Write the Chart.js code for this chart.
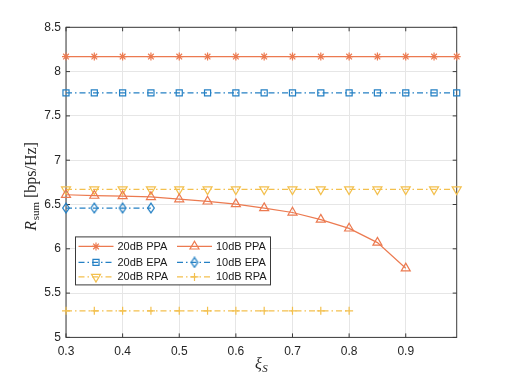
<!DOCTYPE html>
<html>
<head>
<meta charset="utf-8">
<script src="https://cdn.jsdelivr.net/npm/chart.js@4/dist/chart.umd.min.js"></script>
<style>
html,body{margin:0;padding:0;background:#fff;}
canvas{display:block;}
</style>
</head>
<body>
<canvas id="c" width="505" height="379"></canvas>
<script>
// ---- data ----
const xs20 = [0.3,0.35,0.4,0.45,0.5,0.55,0.6,0.65,0.7,0.75,0.8,0.85,0.9,0.95,0.99];
const ppa20 = [8.17,8.17,8.17,8.17,8.17,8.17,8.17,8.17,8.17,8.17,8.17,8.17,8.17,8.17,8.17];
const epa20 = [7.76,7.76,7.76,7.76,7.76,7.76,7.76,7.76,7.76,7.76,7.76,7.76,7.76,7.76,7.76];
const rpa20 = [6.67,6.67,6.67,6.67,6.67,6.67,6.67,6.67,6.67,6.67,6.67,6.67,6.67,6.67,6.67];
const xsPpa10 = [0.3,0.35,0.4,0.45,0.5,0.55,0.6,0.65,0.7,0.75,0.8,0.85,0.9];
const ppa10 = [6.61,6.60,6.595,6.585,6.56,6.535,6.505,6.46,6.41,6.33,6.23,6.07,5.78];
const xsEpa10 = [0.3,0.35,0.4,0.45];
const epa10 = [6.46,6.46,6.46,6.46];
const xsRpa10 = [0.3,0.35,0.4,0.45,0.5,0.55,0.6,0.65,0.7,0.75,0.8];
const rpa10 = [5.30,5.30,5.30,5.30,5.30,5.30,5.30,5.30,5.30,5.30,5.30];
const xTicks = [0.3,0.4,0.5,0.6,0.7,0.8,0.9];
const yTicks = [5,5.5,6,6.5,7,7.5,8,8.5];
const seriesNames = ['20dB PPA','10dB PPA','20dB EPA','10dB EPA','20dB RPA','10dB RPA'];

// ---- styles ----
const ORANGE = '#EC7A50';
const BLUE = '#2480C4';
const YELLOW = '#F3C04E';
const DASHDOT = [6,3,1.5,3];

function diamondImg(color){
  const c = document.createElement('canvas');
  c.width = 10; c.height = 12;
  const g = c.getContext('2d');
  g.strokeStyle = color; g.lineWidth = 1.3;
  g.beginPath();
  g.moveTo(5,1.2); g.lineTo(8.3,6); g.lineTo(5,10.8); g.lineTo(1.7,6); g.closePath();
  g.stroke();
  return c;
}

const pts = (xs, ys) => xs.map((x,i)=>({x:x, y:ys[i]}));

function ds(label, xs, ys, color, dash, style, radius, rotation){
  return {
    label: label,
    data: pts(xs, ys),
    borderColor: color,
    backgroundColor: 'rgba(0,0,0,0)',
    borderWidth: 1.2,
    borderDash: dash,
    pointStyle: style,
    pointRadius: radius,
    pointRotation: rotation || 0,
    pointBorderColor: color,
    pointBackgroundColor: 'rgba(0,0,0,0)',
    pointBorderWidth: 1.2,
    tension: 0,
    clip: false
  };
}

const datasets = [
  ds(seriesNames[0], xs20, ppa20, ORANGE, [], 'star', 4),
  ds(seriesNames[1], xsPpa10, ppa10, ORANGE, [], 'triangle', 5.2),
  ds(seriesNames[2], xs20, epa20, BLUE, DASHDOT, 'rect', 4.3),
  ds(seriesNames[3], xsEpa10, epa10, BLUE, DASHDOT, diamondImg(BLUE), 5),
  ds(seriesNames[4], xs20, rpa20, YELLOW, DASHDOT, 'triangle', 5.2, 180),
  ds(seriesNames[5], xsRpa10, rpa10, YELLOW, DASHDOT, 'cross', 4)
];

const AXIS_COLOR = '#3a3a3a';

const framePlugin = {
  id: 'frame',
  beforeDatasetsDraw(chart){
    const {ctx, chartArea:a, scales} = chart;
    const x = scales.x, y = scales.y;
    ctx.save();
    ctx.strokeStyle = AXIS_COLOR;
    ctx.lineWidth = 1;
    ctx.strokeRect(a.left, a.top, a.right - a.left, a.bottom - a.top);
    const L = 4;
    ctx.beginPath();
    x.ticks.forEach(t => {
      const p = x.getPixelForValue(t.value);
      ctx.moveTo(p, a.bottom); ctx.lineTo(p, a.bottom - L);
      ctx.moveTo(p, a.top); ctx.lineTo(p, a.top + L);
    });
    y.ticks.forEach(t => {
      const p = y.getPixelForValue(t.value);
      ctx.moveTo(a.left, p); ctx.lineTo(a.left + L, p);
      ctx.moveTo(a.right, p); ctx.lineTo(a.right - L, p);
    });
    ctx.stroke();
    ctx.restore();
  }
};

const titlesPlugin = {
  id: 'titles',
  afterDraw(chart){
    const {ctx, chartArea:a} = chart;
    ctx.save();
    ctx.fillStyle = '#262626';
    ctx.textBaseline = 'alphabetic';
    // Y title: R_sum [bps/Hz]
    const fMain = 'italic 16px "Liberation Serif", "DejaVu Serif", serif';
    const fSub = '11px "Liberation Serif", "DejaVu Serif", serif';
    const fRest = '16px "Liberation Serif", "DejaVu Serif", serif';
    ctx.font = fMain; const wR = ctx.measureText('R').width;
    ctx.font = fSub; const wS = ctx.measureText('sum').width;
    ctx.font = fRest; const wB = ctx.measureText(' [bps/Hz]').width;
    const total = wR + 0.5 + wS + wB;
    const cy = (a.top + a.bottom) / 2 + 4;
    ctx.translate(36, cy);
    ctx.rotate(-Math.PI/2);
    let px = -total/2;
    ctx.font = fMain; ctx.fillText('R', px, 0); px += wR + 0.5;
    ctx.font = fSub; ctx.fillText('sum', px, 3); px += wS;
    ctx.font = fRest; ctx.fillText(' [bps/Hz]', px, 0);
    ctx.setTransform(1,0,0,1,0,0);
    // X title: xi_S
    const fXi = 'italic 16px "Liberation Serif", "DejaVu Serif", serif';
    const fXs = 'italic 11px "Liberation Serif", "DejaVu Serif", serif';
    ctx.font = fXi; const wXi = ctx.measureText('ξ').width;
    ctx.font = fXs; const wXs = ctx.measureText('S').width;
    const cx = (a.left + a.right) / 2;
    let qx = cx - (wXi + wXs + 0.5)/2;
    ctx.font = fXi; ctx.fillText('ξ', qx, 369); qx += wXi + 0.5;
    ctx.font = fXs; ctx.fillText('S', qx, 372);
    ctx.restore();
  }
};

const legendPlugin = {
  id: 'mlegend',
  afterDraw(chart){
    const {ctx, chartArea:a} = chart;
    const left = a.left + 9.5, top = a.bottom - 100.5, w = 195, h = 48;
    ctx.save();
    ctx.fillStyle = '#ffffff';
    ctx.fillRect(left, top, w, h);
    ctx.strokeStyle = AXIS_COLOR; ctx.lineWidth = 1;
    ctx.strokeRect(left, top, w, h);
    const rowY = [top + 9.5, top + 25.5, top + 40];
    const colX = [left + 3, left + 101.5];
    ctx.font = '11px "Liberation Sans", Arial, sans-serif';
    ctx.textBaseline = 'middle';
    ctx.fillStyle = '#1a1a1a';
    chart.data.datasets.forEach((d, i) => {
      const c = i % 2, r = Math.floor(i / 2);
      const x0 = colX[c], yy = rowY[r];
      ctx.save();
      ctx.strokeStyle = d.borderColor; ctx.lineWidth = d.borderWidth;
      ctx.setLineDash(d.borderDash || []);
      ctx.beginPath(); ctx.moveTo(x0, yy); ctx.lineTo(x0 + 35, yy); ctx.stroke();
      ctx.setLineDash([]);
      ctx.strokeStyle = d.pointBorderColor; ctx.fillStyle = 'rgba(0,0,0,0)';
      ctx.lineWidth = d.pointBorderWidth;
      Chart.helpers.drawPoint(ctx, {pointStyle: d.pointStyle, radius: d.pointRadius, rotation: d.pointRotation, borderWidth: d.pointBorderWidth}, x0 + 17.5, yy);
      ctx.restore();
      ctx.fillText(d.label, x0 + 39, yy + 0.5);
    });
    ctx.restore();
  }
};

Chart.defaults.font.family = '"Liberation Sans", Arial, sans-serif';
Chart.defaults.font.size = 12;
Chart.defaults.color = '#262626';

new Chart(document.getElementById('c'), {
  type: 'line',
  data: { datasets: datasets },
  options: {
    responsive: false,
    animation: false,
    devicePixelRatio: 1,
    layout: { padding: { left: 0, right: 48.3, top: 27.3, bottom: 0 } },
    plugins: { legend: { display: false }, tooltip: { enabled: false } },
    scales: {
      x: {
        type: 'linear', min: 0.3, max: 0.99,
        afterBuildTicks: s => { s.ticks = xTicks.map(v => ({value: v})); },
        afterFit: s => { s.height = 41.6; },
        grid: { color: '#e6e6e6', drawTicks: false },
        border: { display: false },
        ticks: { padding: 7, maxRotation: 0, autoSkip: false,
          callback: v => String(Math.round(v*10)/10) }
      },
      y: {
        type: 'linear', min: 5, max: 8.5,
        afterBuildTicks: s => { s.ticks = yTicks.map(v => ({value: v})); },
        afterFit: s => { s.width = 66; },
        grid: { color: '#e6e6e6', drawTicks: false },
        border: { display: false },
        ticks: { padding: 5, autoSkip: false,
          callback: v => String(Math.round(v*10)/10) }
      }
    }
  },
  plugins: [framePlugin, titlesPlugin, legendPlugin]
});
</script>
</body>
</html>
